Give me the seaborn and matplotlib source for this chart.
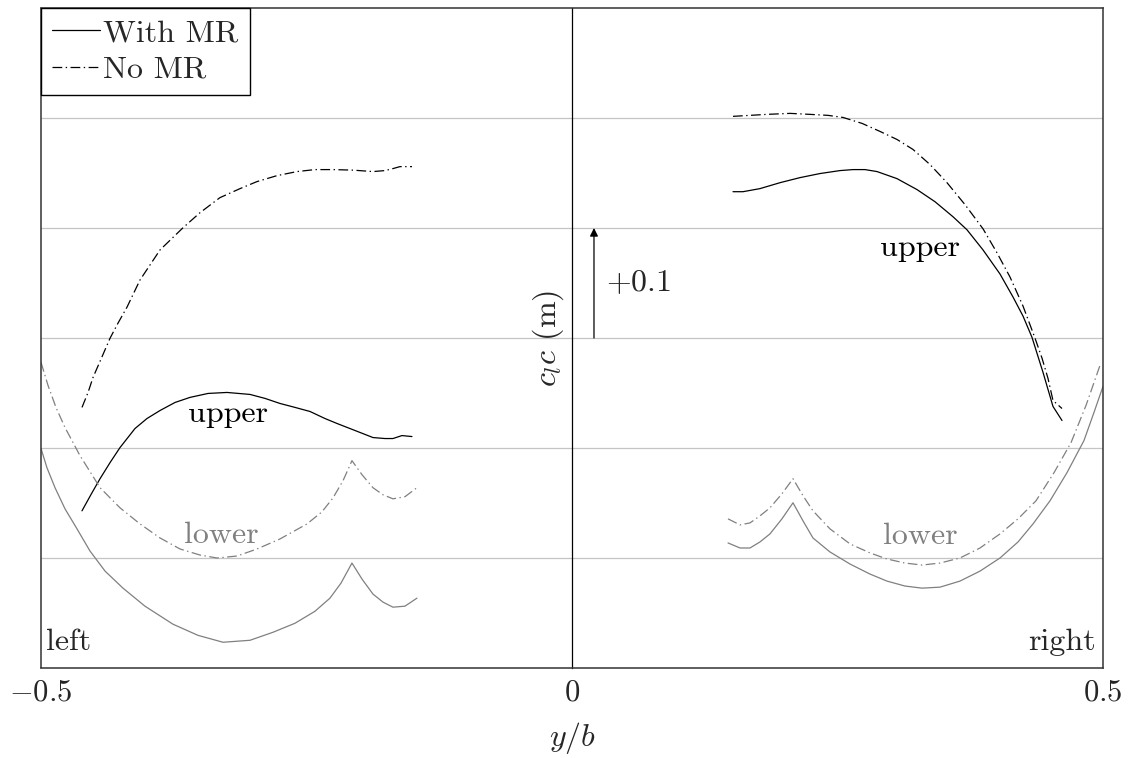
import matplotlib
matplotlib.use("Agg")
import matplotlib.pyplot as plt
from matplotlib.lines import Line2D
import pandas as pd
import seaborn as sns

# Spanwise load distributions (y/b, c_l c) for each wing half, surface and rotor setting
left_upper_nomr_x = [-0.4614, -0.4557, -0.4510, -0.4444, -0.4350, -0.4275, -0.4190, -0.4068, -0.3879,
                     -0.3663, -0.3503, -0.3315, -0.3126, -0.2966, -0.2778, -0.2589, -0.2420, -0.2250,
                     -0.2062, -0.1874, -0.1761, -0.1686, -0.1620, -0.1507]
left_upper_nomr_y = [0.1369, 0.1505, 0.1642, 0.1788, 0.1998, 0.2135, 0.2281, 0.2527, 0.2801,
                     0.3002, 0.3139, 0.3276, 0.3358, 0.3422, 0.3476, 0.3513, 0.3531, 0.3531,
                     0.3526, 0.3513, 0.3522, 0.3540, 0.3558, 0.3558]

left_upper_mr_x = [-0.4614, -0.4520, -0.4444, -0.4350, -0.4256, -0.4115, -0.4002, -0.3879, -0.3738,
                   -0.3597, -0.3427, -0.3249, -0.3032, -0.2891, -0.2750, -0.2608, -0.2467, -0.2326,
                   -0.2213, -0.2043, -0.1874, -0.1761, -0.1686, -0.1601, -0.1507]
left_upper_mr_y = [0.0429, 0.0593, 0.0721, 0.0867, 0.1004, 0.1177, 0.1268, 0.1341, 0.1414,
                   0.1460, 0.1496, 0.1505, 0.1487, 0.1451, 0.1405, 0.1369, 0.1332, 0.1268,
                   0.1223, 0.1159, 0.1095, 0.1086, 0.1086, 0.1113, 0.1104]

left_lower_mr_x = [-0.5000, -0.4944, -0.4868, -0.4774, -0.4661, -0.4539, -0.4397, -0.4228, -0.4021,
                   -0.3757, -0.3522, -0.3286, -0.3032, -0.2815, -0.2608, -0.2420, -0.2279, -0.2175,
                   -0.2072, -0.1977, -0.1874, -0.1780, -0.1686, -0.1573, -0.1460]
left_lower_mr_y = [0.0995, 0.0821, 0.0639, 0.0447, 0.0265, 0.0064, -0.0119, -0.0274, -0.0438,
                   -0.0602, -0.0703, -0.0766, -0.0748, -0.0675, -0.0593, -0.0484, -0.0365, -0.0228,
                   -0.0046, -0.0192, -0.0328, -0.0401, -0.0447, -0.0438, -0.0365]

left_lower_nomr_x = [-0.5000, -0.4934, -0.4859, -0.4774, -0.4633, -0.4444, -0.4256, -0.4068, -0.3879,
                     -0.3691, -0.3503, -0.3343, -0.3154, -0.2966, -0.2750, -0.2495, -0.2354, -0.2250,
                     -0.2156, -0.2072, -0.1977, -0.1874, -0.1780, -0.1686, -0.1573, -0.1460]
left_lower_nomr_y = [0.1779, 0.1569, 0.1369, 0.1186, 0.0931, 0.0639, 0.0456, 0.0310, 0.0182,
                     0.0082, 0.0027, 0.0000, 0.0018, 0.0082, 0.0173, 0.0310, 0.0420, 0.0547,
                     0.0703, 0.0885, 0.0757, 0.0639, 0.0575, 0.0538, 0.0557, 0.0639]

right_upper_nomr_x = [0.1516, 0.1676, 0.1836, 0.2053, 0.2241, 0.2411, 0.2552, 0.2731, 0.2900,
                      0.3060, 0.3211, 0.3371, 0.3531, 0.3701, 0.3870, 0.4002, 0.4124, 0.4247,
                      0.4360, 0.4426, 0.4482, 0.4529, 0.4614]
right_upper_nomr_y = [0.4015, 0.4024, 0.4033, 0.4042, 0.4033, 0.4024, 0.4005, 0.3951, 0.3878,
                      0.3805, 0.3714, 0.3577, 0.3412, 0.3212, 0.2993, 0.2774, 0.2555, 0.2290,
                      0.1998, 0.1816, 0.1633, 0.1432, 0.1359]

right_upper_mr_x = [0.1516, 0.1610, 0.1770, 0.1959, 0.2147, 0.2335, 0.2524, 0.2646, 0.2759,
                    0.2872, 0.3060, 0.3249, 0.3418, 0.3588, 0.3719, 0.3870, 0.4030, 0.4153,
                    0.4247, 0.4331, 0.4435, 0.4529, 0.4614]
right_upper_mr_y = [0.3330, 0.3330, 0.3358, 0.3412, 0.3458, 0.3495, 0.3522, 0.3531, 0.3531,
                    0.3513, 0.3449, 0.3349, 0.3239, 0.3102, 0.2984, 0.2801, 0.2582, 0.2372,
                    0.2199, 0.2007, 0.1688, 0.1378, 0.1250]

right_lower_mr_x = [0.1469, 0.1582, 0.1676, 0.1770, 0.1864, 0.1977, 0.2081, 0.2175, 0.2269,
                    0.2429, 0.2618, 0.2806, 0.2966, 0.3136, 0.3296, 0.3465, 0.3653, 0.3842,
                    0.4030, 0.4200, 0.4341, 0.4501, 0.4661, 0.4821, 0.4915, 0.5000]
right_lower_mr_y = [0.0137, 0.0091, 0.0091, 0.0146, 0.0219, 0.0356, 0.0502, 0.0338, 0.0182,
                    0.0055, -0.0055, -0.0146, -0.0210, -0.0255, -0.0274, -0.0265, -0.0210, -0.0119,
                    0.0000, 0.0146, 0.0310, 0.0520, 0.0776, 0.1068, 0.1323, 0.1560]

right_lower_nomr_x = [0.1469, 0.1582, 0.1676, 0.1770, 0.1864, 0.1977, 0.2081, 0.2175, 0.2269,
                      0.2429, 0.2618, 0.2806, 0.2966, 0.3136, 0.3296, 0.3465, 0.3653, 0.3842,
                      0.4030, 0.4200, 0.4369, 0.4539, 0.4699, 0.4840, 0.4972]
right_lower_nomr_y = [0.0356, 0.0301, 0.0319, 0.0383, 0.0456, 0.0584, 0.0721, 0.0566, 0.0429,
                      0.0265, 0.0128, 0.0046, -0.0009, -0.0046, -0.0064, -0.0046, 0.0000, 0.0091,
                      0.0219, 0.0356, 0.0520, 0.0776, 0.1049, 0.1387, 0.1752]

curves = [
    ("left", "upper", "No MR", left_upper_nomr_x, left_upper_nomr_y),
    ("left", "upper", "With MR", left_upper_mr_x, left_upper_mr_y),
    ("left", "lower", "With MR", left_lower_mr_x, left_lower_mr_y),
    ("left", "lower", "No MR", left_lower_nomr_x, left_lower_nomr_y),
    ("right", "upper", "No MR", right_upper_nomr_x, right_upper_nomr_y),
    ("right", "upper", "With MR", right_upper_mr_x, right_upper_mr_y),
    ("right", "lower", "With MR", right_lower_mr_x, right_lower_mr_y),
    ("right", "lower", "No MR", right_lower_nomr_x, right_lower_nomr_y),
]
rows = []
for side, surf, cfg, xs, ys in curves:
    for xv, yv in zip(xs, ys):
        rows.append({"yb": xv, "clc": yv, "side": side, "surface": surf, "config": cfg,
                     "unit": f"{side}-{surf}-{cfg}"})
df = pd.DataFrame(rows)

sns.set_theme(style="white")
plt.rcParams["font.family"] = "cmr10"
plt.rcParams["mathtext.fontset"] = "cm"
plt.rcParams["axes.formatter.use_mathtext"] = True
plt.rcParams["lines.scale_dashes"] = False
plt.rcParams["lines.solid_joinstyle"] = "round"
plt.rcParams["lines.dash_joinstyle"] = "round"

FS = 23
TICK_FS = 22
DASHDOT = (7, 2.5, 1, 2.5)
GRAY = "#808080"

fig = plt.figure(figsize=(11.31, 7.58), dpi=100)
ax = fig.add_axes([41 / 1131, 1 - 668 / 758, (1103 - 41) / 1131, (668 - 8) / 758])

sns.lineplot(data=df, x="yb", y="clc", hue="surface", style="config", units="unit",
             estimator=None, sort=True, legend=False, ax=ax, lw=0.9,
             palette={"upper": "black", "lower": GRAY},
             dashes={"With MR": "", "No MR": DASHDOT})

ax.set_xlim(-0.5, 0.5)
ax.set_ylim(-0.1, 0.5)
ax.set_xticks([-0.5, 0, 0.5])
ax.set_xticklabels(["$-0.5$", "$0$", "$0.5$"], fontsize=TICK_FS)
ax.set_yticks([0, 0.1, 0.2, 0.3, 0.4])
ax.tick_params(axis="y", labelleft=False, direction="inout", length=8, width=0.7, color="black")
ax.tick_params(axis="x", length=0, pad=8)

ax.set_axisbelow(True)
ax.yaxis.grid(True, color="#c4c4c4", lw=0.9)
ax.xaxis.grid(False)

# y-axis sits on the symmetry plane; keep a full frame around the plot
for name in ["top", "right", "bottom"]:
    ax.spines[name].set_color("#333333")
    ax.spines[name].set_linewidth(1.1)
ax.spines["left"].set_position(("data", 0))
ax.spines["left"].set_color("black")
ax.spines["left"].set_linewidth(0.9)
ax.add_artist(Line2D([0, 0], [0, 1], transform=ax.transAxes, color="#333333",
                     lw=1.1, clip_on=False))

ax.set_xlabel("$y/b$", fontsize=FS, labelpad=10)
ax.set_ylabel("$c_l c$ (m)", fontsize=FS, labelpad=4)

# offset indicator between upper and lower curves
ax.annotate("", xy=(0.0207, 0.3), xytext=(0.0207, 0.2),
            arrowprops=dict(arrowstyle="-|>", color="black", lw=0.9,
                            mutation_scale=12, shrinkA=0, shrinkB=0))
ax.text(0.032, 0.25, "$+0.1$", fontsize=FS, ha="left", va="center")

ax.text(-0.324, 0.131, "upper", fontsize=FS, ha="center", va="center", color="black")
ax.text(0.328, 0.282, "upper", fontsize=FS, ha="center", va="center", color="black")
ax.text(-0.3305, 0.021, "lower", fontsize=FS, ha="center", va="center", color=GRAY)
ax.text(0.328, 0.020, "lower", fontsize=FS, ha="center", va="center", color=GRAY)
ax.text(0.005, 0.027, "left", fontsize=FS, ha="left", va="baseline", transform=ax.transAxes)
ax.text(0.993, 0.027, "right", fontsize=FS, ha="right", va="baseline", transform=ax.transAxes)

handles = [Line2D([], [], color="black", lw=0.9),
           Line2D([], [], color="black", lw=0.9, dashes=DASHDOT)]
leg = ax.legend(handles, ["With MR", "No MR"], loc="upper left", fontsize=FS,
                borderaxespad=0, fancybox=False, framealpha=1, edgecolor="black",
                handlelength=1.5, handletextpad=0.1, borderpad=0.35, labelspacing=0.25)
leg.get_frame().set_linewidth(1.0)

fig.savefig("out.png", dpi=100)
